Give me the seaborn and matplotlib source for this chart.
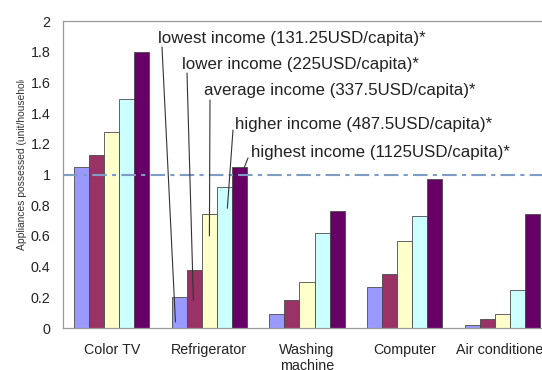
import matplotlib
matplotlib.use("Agg")
import matplotlib.pyplot as plt
import seaborn as sns
import pandas as pd
from matplotlib.transforms import Bbox

appliances = ["Color TV", "Refrigerator", "Washing\nmachine", "Computer", "Air conditioner"]
incomes = ["lowest income (131.25USD/capita)*", "lower income (225USD/capita)*",
           "average income (337.5USD/capita)*", "higher income (487.5USD/capita)*",
           "highest income (1125USD/capita)*"]
lowest = [1.05, 0.20, 0.09, 0.27, 0.02]
lower = [1.13, 0.38, 0.18, 0.35, 0.06]
average = [1.28, 0.74, 0.30, 0.57, 0.09]
higher = [1.49, 0.92, 0.62, 0.73, 0.25]
highest = [1.80, 1.05, 0.76, 0.97, 0.74]
colors = ["#9999FF", "#993366", "#FFFFCC", "#CCFFFF", "#660066"]
ytick_vals = [0, 0.2, 0.4, 0.6, 0.8, 1.0, 1.2, 1.4, 1.6, 1.8, 2.0]
ytick_labels = ["0", "0.2", "0.4", "0.6", "0.8", "1", "1.2", "1.4", "1.6", "1.8", "2"]
# annotation pointer: end height (data) inside the refrigerator bars, and x nudge
pointer_end_y = [0.04, 0.18, 0.60, 0.78, 1.03]
pointer_dx = [-0.04, -0.01, 0.0, 0.03, 0.04]
# text placement in figure pixels (left x, center y from top) and pointer start
text_pos = [(158, 38), (182, 65), (204, 91), (235, 124), (251, 152)]
line_start = [(162, 47), (187, 73), (210, 100), (233, 130), (248, 158)]

series = [lowest, lower, average, higher, highest]
rows = []
for inc, vals in zip(incomes, series):
    for app, v in zip(appliances, vals):
        rows.append({"appliance": app, "income": inc, "value": v})
df = pd.DataFrame(rows)

sns.set_style("white")
plt.rcParams["font.family"] = ["Liberation Sans", "DejaVu Sans"]

W, H = 542, 370
fig = plt.figure(figsize=(W / 100, H / 100), dpi=100)
left, right, bottom, top = 63, 551, 42, 349
ax = fig.add_axes([left / W, bottom / H, (right - left) / W, (top - bottom) / H])

group_w = 0.77
sns.barplot(data=df, x="appliance", y="value", hue="income", palette=colors,
            width=group_w, dodge=True, edgecolor="#4a4a4a", linewidth=0.6,
            saturation=1, legend=False, ax=ax, order=appliances, hue_order=incomes)

ax.axhline(1.0, color="#7f9cc4", lw=1.5, dashes=(7, 2.5, 2, 2.5), zorder=3)

ax.set_xlim(-0.5, len(appliances) - 0.5)
ax.set_ylim(0, 2)
ax.set_yticks(ytick_vals)
ax.set_yticklabels(ytick_labels)
ax.set_xticks(range(len(appliances)))
ax.set_xticklabels(appliances)
ax.set_xticks([i + 0.5 for i in range(len(appliances) - 1)], minor=True)
ax.tick_params(axis="x", which="major", length=0, pad=11, labelsize=10.3, colors="#222222")
ax.tick_params(axis="x", which="minor", length=3, direction="in", color="#888888", width=0.8)
ax.tick_params(axis="y", which="major", length=4, direction="out", pad=5,
               labelsize=10.3, colors="#222222")
ax.tick_params(axis="y", colors="#888888", labelcolor="#222222")
ax.set_xlabel("")
ax.set_ylabel("")
for s in ax.spines.values():
    s.set_color("#9a9a9a")
    s.set_linewidth(0.9)

# y label (clipped at top like the reference)
yl = fig.text(22, H - 250, "Appliances possessed (unit/household)",
              transform=None, rotation=90, rotation_mode="anchor",
              ha="left", va="center", fontsize=7.4, color="#333333")
yl.set_clip_on(True)
yl.set_clip_box(Bbox([[0, 0], [60, H - 80]]))

# annotations for the refrigerator group
nh = len(incomes)
bw = group_w / nh
for k, inc in enumerate(incomes):
    bx = 1 + (k - (nh - 1) / 2) * bw + pointer_dx[k]
    sx, sy = line_start[k]
    ax.annotate("", xy=(bx, pointer_end_y[k]), xycoords="data",
                xytext=(sx, H - sy), textcoords="figure pixels",
                arrowprops=dict(arrowstyle="-", color="#333333", lw=0.8,
                                shrinkA=0, shrinkB=0), zorder=5)
    tx, ty = text_pos[k]
    fig.text(tx, H - ty, inc, transform=None, ha="left", va="center",
             fontsize=12.2, color="#222222")

fig.savefig("out.png", dpi=100)
